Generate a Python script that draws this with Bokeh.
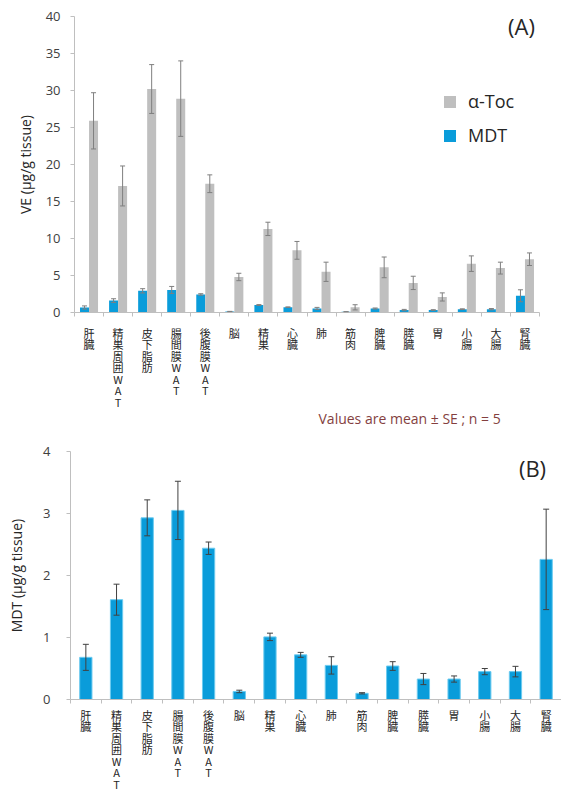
from bokeh.plotting import figure
from bokeh.models import (ColumnDataSource, Range1d, LinearAxis, FixedTicker, Whisker, Label,
                          Legend, TeeHead, Title)
from bokeh.transform import dodge
from bokeh.embed import file_html
from bokeh.resources import INLINE

organs = ["肝臓", "精巣周囲WAT", "皮下脂肪", "腸間膜 WAT", "後腹膜 WAT", "脳", "精巣", "心臓",
          "肺", "筋肉", "脾臓", "膵臓", "胃", "小腸", "大腸", "腎臓"]
atoc = [25.9, 17.1, 30.2, 28.9, 17.4, 4.8, 11.3, 8.4, 5.5, 0.7, 6.1, 4.0, 2.1, 6.6, 6.0, 7.2]
atoc_se = [3.8, 2.7, 3.3, 5.1, 1.2, 0.5, 0.9, 1.2, 1.3, 0.35, 1.4, 0.9, 0.55, 1.05, 0.8, 0.85]
mdt = [0.68, 1.61, 2.93, 3.05, 2.44, 0.13, 1.01, 0.72, 0.55, 0.10, 0.54, 0.33, 0.33, 0.45, 0.45, 2.26]
mdt_se = [0.21, 0.25, 0.29, 0.47, 0.10, 0.02, 0.06, 0.04, 0.14, 0.01, 0.07, 0.09, 0.05, 0.05, 0.085, 0.81]
top_ticks = [0, 5, 10, 15, 20, 25, 30, 35, 40]
bottom_ticks = [0, 1, 2, 3, 4]

BLUE = "#0A9CDA"
GRAY = "#BFBFBF"
AXIS = "#BFBFBF"
TXT = "#404040"
CJK = "Noto Sans CJK JP"
LAT = "Open Sans"

n = len(organs)
centers = [i + 0.5 for i in range(n)]          # category slot centres on the x scale
bounds = list(range(n + 1))                    # category slot boundaries


def stacked(name):
    return "\n".join(ch for ch in name if ch != " ")


src = ColumnDataSource(dict(
    organ=organs, xc=centers,
    atoc=atoc, atoc_lo=[v - e for v, e in zip(atoc, atoc_se)], atoc_hi=[v + e for v, e in zip(atoc, atoc_se)],
    mdt=mdt, mdt_lo=[v - e for v, e in zip(mdt, mdt_se)], mdt_hi=[v + e for v, e in zip(mdt, mdt_se)],
))


def make_fig(width, height, ymax, ticks, ylabel, borders, lab_standoff, axlab_standoff, x_standoff):
    l, r, t, b = borders
    p = figure(width=width, height=height, x_range=Range1d(0, n),
               y_range=Range1d(0, ymax), output_backend="svg", toolbar_location=None,
               x_axis_location=None, min_border_left=l, min_border_right=r,
               min_border_top=t, min_border_bottom=b)
    p.outline_line_color = None
    p.xgrid.visible = False
    p.ygrid.visible = False
    p.background_fill_color = "white"
    ya = p.yaxis[0]
    ya.ticker = FixedTicker(ticks=ticks, minor_ticks=[])
    ya.axis_line_color = AXIS
    ya.major_tick_line_color = AXIS
    ya.major_tick_out = 4
    ya.major_tick_in = 0
    ya.minor_tick_line_color = None
    ya.major_label_text_font = LAT
    ya.major_label_text_font_size = "13px"
    ya.major_label_text_color = TXT
    ya.major_label_standoff = lab_standoff
    ya.axis_label = ylabel
    ya.axis_label_text_font = LAT
    ya.axis_label_text_font_size = "14px"
    ya.axis_label_text_font_style = "normal"
    ya.axis_label_text_color = "#262626"
    ya.axis_label_standoff = axlab_standoff

    xa = LinearAxis(ticker=FixedTicker(ticks=centers, minor_ticks=bounds),
                    major_label_overrides={c: stacked(o) for c, o in zip(centers, organs)})
    xa.axis_line_color = AXIS
    xa.major_tick_line_color = None
    xa.major_tick_out = 4
    xa.major_tick_in = 0
    xa.minor_tick_line_color = AXIS
    xa.minor_tick_out = 4
    xa.minor_tick_in = 0
    xa.major_label_text_font = CJK
    xa.major_label_text_font_size = "11px"
    xa.major_label_text_line_height = 0.72
    xa.major_label_text_color = "#262626"
    xa.major_label_standoff = x_standoff
    p.add_layout(xa, "below")
    return p


# ---- (A) ----
p1 = make_fig(561, 440, 40, top_ticks, "VE (μg/g tissue)", (74, 22, 16, 128), 10, 8, 8)
rb = p1.vbar(x=dodge("xc", -0.155), top="mdt", width=0.31, source=src,
             fill_color=BLUE, line_color=None)
rg = p1.vbar(x=dodge("xc", 0.155), top="atoc", width=0.31, source=src,
             fill_color=GRAY, line_color=None)
for off, lo, hi in [(-0.155, "mdt_lo", "mdt_hi"), (0.155, "atoc_lo", "atoc_hi")]:
    w = Whisker(source=src, base=dodge("xc", off), lower=lo, upper=hi,
                line_color="#7F7F7F", line_width=1, level="annotation",
                upper_head=TeeHead(size=5, line_color="#7F7F7F", line_width=1),
                lower_head=TeeHead(size=5, line_color="#7F7F7F", line_width=1))
    p1.add_layout(w)

leg = Legend(items=[("α-Toc", [rg]), ("MDT", [rb])], location=(368, 165))
leg.border_line_color = None
leg.background_fill_alpha = 0
leg.padding = 0
leg.margin = 0
leg.glyph_width = 15
leg.glyph_height = 15
leg.label_standoff = 11
leg.label_height = 20
leg.spacing = 10
leg.label_text_font = LAT
leg.label_text_font_size = "18px"
leg.label_text_color = "#262626"
p1.add_layout(leg)

p1.add_layout(Label(x=447, y=287, x_units="screen", y_units="screen", text="(A)",
                    text_font=LAT, text_font_size="22px", text_color="#262626",
                    text_align="center", text_baseline="middle"))
note = Title(text="Values are mean ± SE ; n = 5", align="left", offset=244, standoff=-30,
             text_font=LAT, text_font_size="14px", text_font_style="normal",
             text_color="#843F3F")
p1.add_layout(note, "below")

# ---- (B) ----
p2 = make_fig(561, 354, 4, bottom_ticks, "MDT (μg/g tissue)", (70, 0, 11, 94), 16, 14, 3)
p2.vbar(x="xc", top="mdt", width=0.4, source=src, fill_color=BLUE, line_color="#6CCBF0",
        line_width=1)
w2 = Whisker(source=src, base="xc", lower="mdt_lo", upper="mdt_hi",
             line_color="#404040", line_width=1, level="annotation",
             upper_head=TeeHead(size=6, line_color="#404040", line_width=1),
             lower_head=TeeHead(size=6, line_color="#404040", line_width=1))
p2.add_layout(w2)
p2.add_layout(Label(x=462, y=232, x_units="screen", y_units="screen", text="(B)",
                    text_font=LAT, text_font_size="22px", text_color="#262626",
                    text_align="center", text_baseline="middle"))

open("out.html", "w").write(file_html([p1, p2], INLINE))
